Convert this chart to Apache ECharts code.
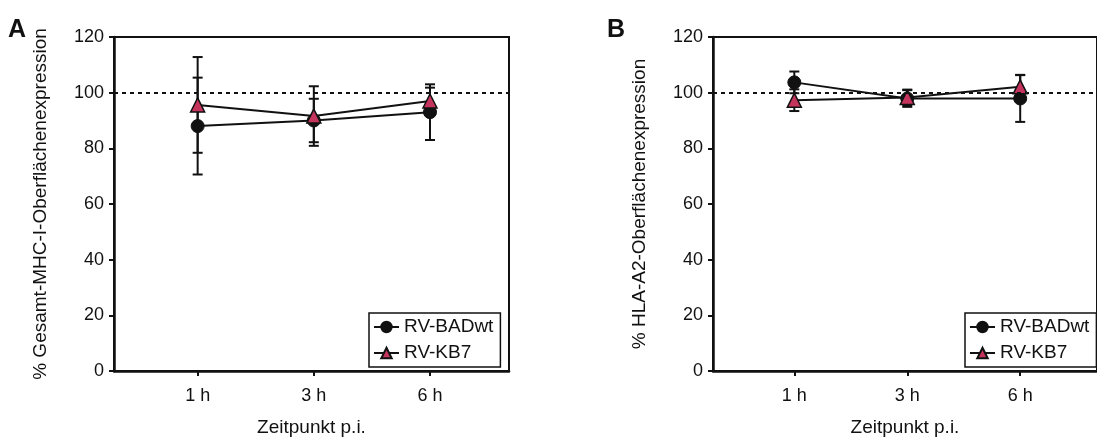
<!DOCTYPE html>
<html>
<head>
<meta charset="utf-8">
<script src="https://cdn.jsdelivr.net/npm/echarts@6/dist/echarts.min.js"></script>
<style>
  html, body { margin: 0; padding: 0; background: #fff; }
  #chart { width: 1097px; height: 442px; }
</style>
</head>
<body>
<div id="chart"></div>
<script>
// Time points after infection (positions 1..3 on the x scale)
const timeLabels = ['1 h', '3 h', '6 h'];
const timePos = [1, 2, 3];

// Panel A: total MHC-I surface expression (% of control), mean and SD
const badwtA = [88, 90, 93];
const badwtAErr = [17.4, 7.8, 10];
const kb7A = [95.6, 91.6, 97];
const kb7AErr = [17.2, 10.7, 4.8];

// Panel B: HLA-A2 surface expression (% of control), mean and SD
const badwtB = [103.7, 97.9, 97.9];
const badwtBErr = [3.9, 3, 8.4];
const kb7B = [97.3, 98.3, 102.1];
const kb7BErr = [3.9, 2.8, 4.3];

const seriesNames = ['RV-BADwt', 'RV-KB7'];
const refLevel = 100;

const FONT = '"Liberation Sans", Arial, sans-serif';
const INK = '#111';
const TRI = '#c4345c';

const chart = echarts.init(document.getElementById('chart'), null, { renderer: 'canvas' });

function pts(vals) { return vals.map((v, i) => [timePos[i], v]); }
function errs(vals, e) { return vals.map((v, i) => [timePos[i], v - e[i], v + e[i]]); }

// Vertical whisker with a short cap at each end
function errorBar(params, api) {
  const x = api.value(0);
  const lo = api.coord([x, api.value(1)]);
  const hi = api.coord([x, api.value(2)]);
  const hw = 5;
  const st = { stroke: INK, lineWidth: 2 };
  return {
    type: 'group',
    children: [
      { type: 'line', shape: { x1: hi[0], y1: hi[1], x2: lo[0], y2: lo[1] }, style: st },
      { type: 'line', shape: { x1: hi[0] - hw, y1: hi[1], x2: hi[0] + hw, y2: hi[1] }, style: st },
      { type: 'line', shape: { x1: lo[0] - hw, y1: lo[1], x2: lo[0] + hw, y2: lo[1] }, style: st }
    ]
  };
}

function xAxisFor(gridIndex) {
  return {
    type: 'value', gridIndex, min: 0.28, max: 3.68,
    name: 'Zeitpunkt p.i.', nameLocation: 'middle', nameGap: 47,
    nameTextStyle: { fontFamily: FONT, fontSize: 19, color: INK },
    axisLine: { show: true, onZero: false, lineStyle: { color: INK, width: 2.5 } },
    axisTick: { show: true, length: 5, lineStyle: { color: INK, width: 2 }, customValues: timePos },
    axisLabel: {
      fontFamily: FONT, fontSize: 18, color: INK, margin: 16, customValues: timePos,
      formatter: v => timeLabels[timePos.indexOf(Math.round(v))] || ''
    },
    splitLine: { show: false }
  };
}

function yAxisFor(gridIndex, name) {
  return {
    type: 'value', gridIndex, min: 0, max: 120, interval: 20,
    name, nameLocation: 'middle', nameGap: 64, nameRotate: 90,
    nameTextStyle: { fontFamily: FONT, fontSize: 19, color: INK },
    axisLine: { show: true, lineStyle: { color: INK, width: 2.5 } },
    axisTick: { show: true, length: 5, lineStyle: { color: INK, width: 2 } },
    axisLabel: { fontFamily: FONT, fontSize: 18, color: INK, margin: 10 },
    splitLine: { show: false }
  };
}

function panelSeries(idx, badwt, badwtErr, kb7, kb7Err) {
  return [
    {
      type: 'custom', name: 'errBADwt' + idx, xAxisIndex: idx, yAxisIndex: idx,
      renderItem: errorBar, encode: { x: 0, y: [1, 2] }, data: errs(badwt, badwtErr), z: 1, silent: true
    },
    {
      type: 'custom', name: 'errKB7' + idx, xAxisIndex: idx, yAxisIndex: idx,
      renderItem: errorBar, encode: { x: 0, y: [1, 2] }, data: errs(kb7, kb7Err), z: 1, silent: true
    },
    {
      type: 'line', name: seriesNames[0], xAxisIndex: idx, yAxisIndex: idx,
      data: pts(badwt), symbol: 'circle', symbolSize: 13,
      lineStyle: { color: INK, width: 2 },
      itemStyle: { color: INK, borderColor: INK, borderWidth: 1 },
      z: 3,
      markLine: {
        silent: true, symbol: 'none', label: { show: false },
        lineStyle: { color: INK, type: [4, 4], width: 2 },
        data: [{ yAxis: refLevel }]
      }
    },
    {
      type: 'line', name: seriesNames[1], xAxisIndex: idx, yAxisIndex: idx,
      data: pts(kb7), symbol: 'triangle', symbolSize: 14,
      lineStyle: { color: INK, width: 2 },
      itemStyle: { color: TRI, borderColor: INK, borderWidth: 1.5 },
      z: 4
    }
  ];
}

function legendFor(left) {
  return {
    orient: 'vertical', left, top: 313, data: seriesNames,
    backgroundColor: '#fff', borderColor: INK, borderWidth: 1.5, borderRadius: 0,
    padding: [4, 7, 4, 4], itemGap: 6, itemWidth: 25, itemHeight: 13,
    textStyle: { fontFamily: FONT, fontSize: 19, lineHeight: 20, color: INK }
  };
}

chart.setOption({
  animation: false,
  backgroundColor: '#fff',
  grid: [
    { left: 114, top: 37, width: 395, height: 341, show: true, borderColor: INK, borderWidth: 2, backgroundColor: 'transparent' },
    { left: 713, top: 37, width: 395, height: 341, show: true, borderColor: INK, borderWidth: 2, backgroundColor: 'transparent' }
  ],
  xAxis: [xAxisFor(0), xAxisFor(1)],
  yAxis: [
    yAxisFor(0, '% Gesamt-MHC-I-Oberflächenexpression'),
    yAxisFor(1, '% HLA-A2-Oberflächenexpression')
  ],
  legend: [legendFor(369), legendFor(965)],
  graphic: [
    { type: 'text', left: 8, top: 18, style: { text: 'A', fontFamily: FONT, fontSize: 25, fontWeight: 'bold', fill: INK } },
    { type: 'text', left: 607, top: 18, style: { text: 'B', fontFamily: FONT, fontSize: 25, fontWeight: 'bold', fill: INK } }
  ],
  series: [
    ...panelSeries(0, badwtA, badwtAErr, kb7A, kb7AErr),
    ...panelSeries(1, badwtB, badwtBErr, kb7B, kb7BErr)
  ]
});
</script>
</body>
</html>
